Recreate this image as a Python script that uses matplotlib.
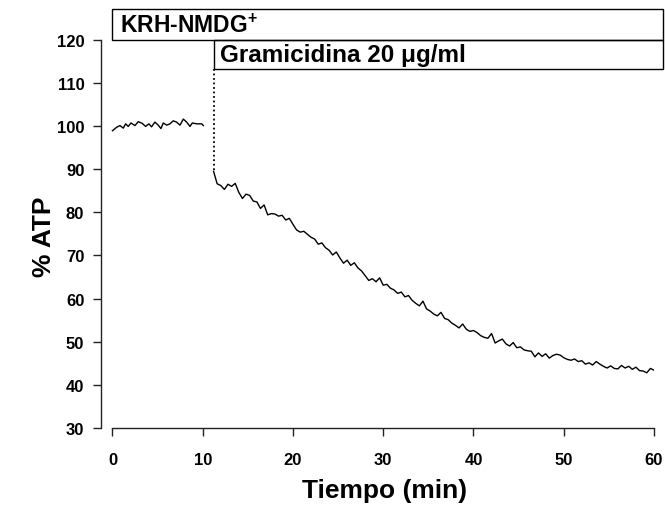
import matplotlib
matplotlib.use("Agg")
import matplotlib.pyplot as plt
import numpy as np
from matplotlib.patches import Rectangle

plt.rcParams["font.family"] = ["Liberation Sans", "DejaVu Sans"]
plt.rcParams["font.weight"] = "bold"
plt.rcParams["mathtext.fontset"] = "custom"
plt.rcParams["mathtext.rm"] = "Liberation Sans:bold"
plt.rcParams["mathtext.bf"] = "Liberation Sans:bold"
plt.rcParams["mathtext.default"] = "bf"

# baseline in KRH-NMDG+ (0-10 min)
base_time = [0.0, 0.46, 0.83, 1.2, 1.46, 1.75, 2.05, 2.49, 2.86, 3.3, 3.67, 4.04,
             4.33, 4.7, 5.07, 5.37, 5.63, 6.0, 6.37, 6.74, 7.1, 7.48, 7.85, 8.22,
             8.59, 8.85, 9.33, 9.88, 10.07]
base_atp = [98.9, 99.7, 100.1, 99.5, 100.5, 99.9, 100.7, 100.1, 101.0, 100.6, 99.9,
            100.5, 99.8, 100.9, 100.2, 99.4, 100.7, 100.2, 100.5, 101.2, 100.9, 100.2,
            101.6, 100.9, 99.9, 100.7, 100.5, 100.5, 100.1]

# after gramicidin addition (11.2-60 min, every 0.4 min)
decay_atp = [89.5, 86.6, 86.2, 85.3, 86.5, 86.0, 86.7, 84.6, 83.2, 84.2, 83.9, 82.6,
             82.4, 80.9, 81.7, 79.4, 79.7, 79.6, 79.1, 79.3, 78.2, 78.6, 77.2, 75.9,
             75.4, 75.6, 74.9, 74.2, 73.8, 72.6, 72.9, 71.8, 71.2, 70.1, 70.8, 69.4,
             68.2, 68.9, 67.7, 68.3, 67.1, 66.4, 65.3, 64.2, 64.6, 63.9, 64.8, 63.1,
             63.3, 62.4, 62.0, 61.2, 61.5, 60.4, 60.7, 59.6, 58.9, 58.3, 59.4, 57.6,
             57.1, 56.4, 56.0, 56.8, 55.4, 55.1, 54.3, 53.8, 53.2, 54.1, 52.9, 52.4,
             52.6, 52.1, 51.4, 51.0, 50.8, 51.9, 49.7, 50.2, 50.6, 49.5, 49.0, 49.8,
             48.6, 48.8, 48.1, 47.9, 47.8, 46.5, 47.4, 46.6, 47.2, 46.2, 46.8, 47.1,
             46.9, 46.3, 45.9, 45.7, 46.0, 45.4, 45.6, 44.8, 45.1, 44.6, 45.4, 44.8,
             44.3, 43.9, 44.4, 43.8, 43.7, 44.5, 43.9, 44.3, 43.6, 44.1, 43.3, 43.2,
             42.8, 43.8, 43.4]
decay_time = np.linspace(11.2, 60.0, len(decay_atp))

addition_time = 11.25
x_ticks = [0, 10, 20, 30, 40, 50, 60]
y_ticks = [30, 40, 50, 60, 70, 80, 90, 100, 110, 120]

fig = plt.figure(figsize=(6.65, 5.1), dpi=100)
ax = fig.add_axes([101 / 665, 81 / 510, 553 / 665, 388.3 / 510])

ax.plot(base_time, base_atp, color="black", lw=1.0)
ax.plot(decay_time, decay_atp, color="black", lw=1.0)
ax.plot([addition_time, addition_time], [113.2, decay_atp[0]], color="black",
        lw=1.3, linestyle=(0, (1, 1.5)))

ax.set_xlim(-1.27, 60)
ax.set_ylim(30, 120)
ax.spines["top"].set_visible(False)
ax.spines["right"].set_visible(False)
ax.spines["bottom"].set_bounds(0, 60)
for side in ["left", "bottom"]:
    ax.spines[side].set_color("#222222")
    ax.spines[side].set_linewidth(1.0)
ax.set_xticks(x_ticks)
ax.set_yticks(y_ticks)
ax.tick_params(axis="both", direction="out", length=6, width=1.0, color="#222222",
               labelsize=12)
ax.tick_params(axis="x", pad=11)
ax.tick_params(axis="y", pad=6)
for lbl in ax.get_xticklabels() + ax.get_yticklabels():
    lbl.set_fontweight("bold")

# solution bars above the plot
ax.add_patch(Rectangle((0, 120), 61.0, 7.1, fill=False, lw=1.0, ec="black",
                       clip_on=False))
ax.add_patch(Rectangle((addition_time, 113.2), 61.0 - addition_time, 6.8, fill=False,
                       lw=1.0, ec="black", clip_on=False))
ax.text(0.8, 123.4, "KRH-NMDG$^{+}$", fontsize=16.5, fontweight="bold",
        va="center", ha="left", clip_on=False)
ax.text(addition_time + 0.7, 116.5, "Gramicidina 20 \u03bcg/ml", fontsize=17.5,
        fontweight="bold", va="center", ha="left", clip_on=False)

fig.text(385 / 665, 1 - 491 / 510, "Tiempo (min)", fontsize=19, fontweight="bold",
         ha="center", va="center")
fig.text(44 / 665, 1 - 237 / 510, "% ATP", fontsize=19, fontweight="bold",
         ha="center", va="center", rotation=90)

fig.savefig("out.png", dpi=100)
